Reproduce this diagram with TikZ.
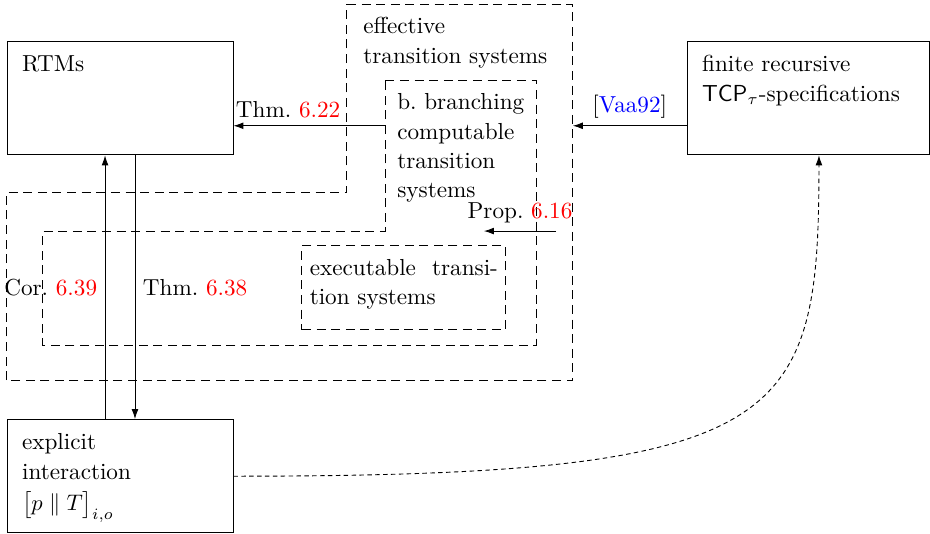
\documentclass[tikz,border=0pt]{standalone}
\usepackage{fontspec}
\usetikzlibrary{arrows.meta}
\definecolor{refred}{HTML}{FF0000}
\definecolor{citeblue}{HTML}{0000FF}

\begin{document}
\begin{tikzpicture}[
  font=\fontsize{10.3}{13}\selectfont,
  >={Latex[length=4.4pt,width=3pt]},
  box/.style={draw, align=left, inner xsep=6.7pt, inner ysep=0pt, text height=13.5pt, text depth=36.9pt},
  region/.style={draw, dash pattern=on 4pt off 2.5pt},
  lbl/.style={anchor=base west, align=left, inner sep=0pt},
  arrow/.style={->},
]
\useasboundingbox (0,0) rectangle (14.53,8.34);

% nested classes of transition systems
\draw[region] (5.42,8.27) -- (8.95,8.27) -- (8.95,2.39) -- (0.094,2.39) -- (0.094,5.33) -- (5.42,5.33) -- cycle;
\draw[region] (6.02,7.09) -- (8.375,7.09) -- (8.375,2.95) -- (0.67,2.95) -- (0.67,4.73) -- (6.02,4.73) -- cycle;

\node[lbl, text width=3cm] (efflbl) at (5.67,7.81) {effective\\transition systems};
\node[lbl, text width=2.4cm] (bctlbl) at (6.20,6.625) {b.\ branching\\computable\\transition\\systems};
\node[region, align=left, text width=2.94cm, inner xsep=3.5pt, inner ysep=0pt, text height=13.3pt, text depth=24pt] (exe) at (6.31,3.845) {executable\hfill transi-\\tion systems};

% the three boxes
\node[box, text width=3.06cm] (rtms) at (1.875,6.805) {RTMs};
\node[box, text width=3.31cm] (tcp) at (12.625,6.805) {finite recursive\\$\mathsf{TCP}_\tau$-specifications};
\node[box, text width=3.06cm] (expl) at (1.875,0.90) {explicit\\interaction\\[1pt]$\bigl[p \parallel T\bigr]_{i,o}$};

\coordinate (bct622) at (6.02,6.375);
\coordinate (effvaa) at (8.95,6.375);
\coordinate (p616a) at (8.69,4.73);
\coordinate (p616b) at (7.56,4.73);

\draw[arrow] (bct622) -- node[pos=0.64, above] (lbl622) {Thm.~\textcolor{refred}{6.22}} (bct622 -| rtms.east);
\draw[arrow] (tcp.west |- effvaa) -- node[above] (lblvaa) {[\textcolor{citeblue}{Vaa92}]} (effvaa);
\draw[arrow] (p616a) -- node[above] (lbl616) {Prop.~\textcolor{refred}{6.16}} (p616b);

\draw[arrow] ([xshift=-0.234cm]expl.north) -- node[left] (lbl639) {Cor.~\textcolor{refred}{6.39}} ([xshift=-0.234cm]rtms.south);
\draw[arrow] ([xshift=0.234cm]rtms.south) -- node[right] (lbl638) {Thm.~\textcolor{refred}{6.38}} ([xshift=0.234cm]expl.north);

\draw[arrow, dash pattern=on 2pt off 1.5pt] (expl.east) .. controls +(8.7,0) and +(0,-4.2) .. ([xshift=0.17cm]tcp.south);

\end{tikzpicture}
\end{document}
